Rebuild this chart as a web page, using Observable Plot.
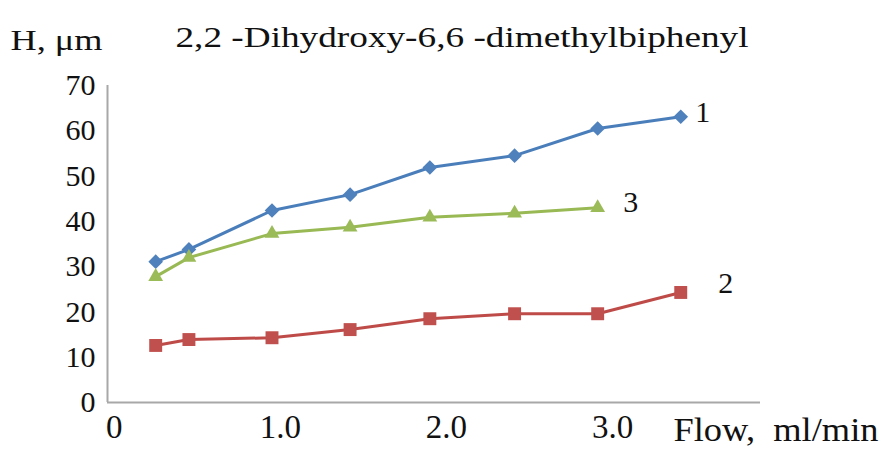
<!DOCTYPE html>
<html><head><meta charset="utf-8">
<script src="https://cdn.jsdelivr.net/npm/d3@7"></script>
<script src="https://cdn.jsdelivr.net/npm/@observablehq/plot@0.6"></script>
<style>
body{margin:0;background:#fff;}
svg{font-family:"Liberation Serif","Times New Roman",serif;}
</style></head><body><div id="chart"></div>
<script>
// Data
const flow = [0.25, 0.45, 0.95, 1.42, 1.90, 2.41, 2.91, 3.41];
const h1 = [31.1, 33.8, 42.4, 45.9, 51.9, 54.5, 60.5, 63.1];
const h2 = [12.6, 13.9, 14.3, 16.1, 18.5, 19.6, 19.6, 24.3];
const h3 = [27.8, 32.0, 37.3, 38.7, 40.9, 41.8, 43.0];
const seriesNames = ["1", "2", "3"];
const xTicks = [0, 1, 2, 3];
const xTickLabels = ["0", "1.0", "2.0", "3.0"];
const yTicks = [0, 10, 20, 30, 40, 50, 60, 70];
const title = "2,2 -Dihydroxy-6,6 -dimethylbiphenyl";
const yLabel = "H, \u03bcm";
const xLabel = "Flow,\u00a0 ml/min";

const lineColors = ["#4a7ebb", "#be4b48", "#98b954"];
const markColors = ["#4f81bd", "#c0504d", "#9bbb59"];
const symbols = ["diamond2", "square", "triangle"];
const radii = [6.6, 7.3, 5.5];
const labelOffsets = [[22, -4], [45, -9], [33, -5]];

const series = [h1, h2, h3].map((hs, i) => hs.map((v, j) => ({series: seriesNames[i], flow: flow[j], h: v})));

const marks = [
  Plot.ruleY([0], {stroke: "#a8a8a8", strokeWidth: 2}),
  Plot.ruleX([-0.04], {stroke: "#a8a8a8", strokeWidth: 2}),
  Plot.axisY(yTicks, {tickSize: 0, tickPadding: 12, fontSize: 30, label: null}),
  Plot.axisX(xTicks, {tickSize: 0, tickPadding: 12, fontSize: 33, label: null,
    tickFormat: d => xTickLabels[xTicks.indexOf(d)]})
];
series.forEach((rows, i) => {
  marks.push(Plot.line(rows, {x: "flow", y: "h", stroke: lineColors[i], strokeWidth: 3}));
  marks.push(Plot.dot(rows, {x: "flow", y: "h", symbol: symbols[i], fill: markColors[i], stroke: "none", r: radii[i]}));
  const last = rows[rows.length - 1];
  marks.push(Plot.text([last], {x: "flow", y: "h", text: d => d.series, dx: labelOffsets[i][0], dy: labelOffsets[i][1], fontSize: 30}));
});
marks.push(Plot.text([title], {frameAnchor: "top", lineAnchor: "middle", dx: 28, dy: -48, fontSize: 30}));
marks.push(Plot.text([yLabel], {frameAnchor: "top-left", lineAnchor: "middle", textAnchor: "start", dx: -97, dy: -45, fontSize: 30}));
marks.push(Plot.text([xLabel], {frameAnchor: "bottom-right", lineAnchor: "middle", textAnchor: "start", dx: -87, dy: 28, fontSize: 33}));

const chart = Plot.plot({
  width: 882, height: 450,
  marginLeft: 107, marginRight: 122, marginTop: 85, marginBottom: 48,
  x: {domain: [-0.04, 3.89]},
  y: {domain: [0, 70]},
  style: {fontFamily: "'Liberation Serif', 'Times New Roman', serif", fontSize: "30px", background: "#fff", color: "#111"},
  marks
});
document.getElementById("chart").appendChild(chart);

// stretch the wide title texts to the widths seen in the reference
const widths = new Map([[title, 573], [yLabel, 92], [xLabel, 205]]);
d3.select(chart).selectAll("text").each(function() {
  const w = widths.get(this.textContent);
  if (w) { this.setAttribute("textLength", w); this.setAttribute("lengthAdjust", "spacingAndGlyphs"); }
});
</script></body></html>
